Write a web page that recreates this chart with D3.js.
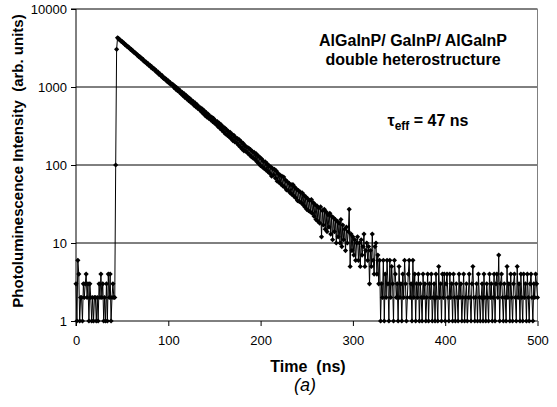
<!DOCTYPE html>
<html>
<head>
<meta charset="utf-8">
<script src="https://cdn.jsdelivr.net/npm/d3@7"></script>
<style>
  body { margin: 0; background: #fff; }
  text { font-family: Arial, "Liberation Sans", sans-serif; }
</style>
</head>
<body>
<div id="chart"></div>
<script>
  // counts per 1 ns channel
  const backgroundCounts = [3, 1, 6, 4, 1, 2, 2, 1, 3, 2, 3, 4, 2, 3, 1, 3, 2, 1, 2, 1,
    2, 2, 1, 2, 1, 3, 2, 4, 2, 3, 1, 2, 1, 3, 1, 4, 2, 4, 1, 2, 3, 2, 2];
  const riseCounts = [100, 3043];
  const decayCounts = [
    4266, 4190, 4035, 3990, 3850, 3820, 3680, 3650, 3500, 3470,
    3340, 3320, 3190, 3170, 3040, 3030, 2900, 2890, 2760, 2750,
    2690, 2580, 2570, 2450, 2460, 2340, 2350, 2230, 2240, 2130,
    2080, 2090, 1980, 1990, 1890, 1910, 1800, 1820, 1720, 1740,
    1700, 1600, 1620, 1530, 1550, 1450, 1470, 1390, 1410, 1320,
    1290, 1310, 1230, 1250, 1170, 1200, 1120, 1140, 1070, 1090,
    1075, 990, 1030, 940, 985, 895, 940, 860, 895, 815,
    855, 775, 820, 735, 785, 705, 750, 670, 715, 640,
    680, 615, 650, 580, 625, 555, 595, 530, 560, 510,
    540, 480, 520, 455, 495, 430, 470, 410, 450, 395,
    425, 380, 410, 360, 395, 345, 370, 330, 360, 310,
    345, 295, 330, 280, 310, 265, 300, 250, 285, 240,
    270, 230, 262, 218, 248, 205, 240, 198, 225, 192,
    218, 180, 210, 170, 198, 160, 190, 152, 178, 150,
    170, 142, 165, 135, 158, 128, 150, 122, 145, 118,
    140, 110, 132, 104, 126, 98, 120, 94, 112, 90,
    110, 86, 104, 82, 98, 78, 95, 72, 90, 75,
    88, 68, 84, 62, 78, 60, 74, 57, 72, 54,
    70, 52, 64, 48, 61, 47, 58, 44, 56, 42,
    56, 40, 52, 38, 49, 35, 47, 34, 45, 33,
    44, 31, 41, 29, 39, 27, 37, 26, 35, 25,
    36, 24, 33, 22, 31, 20, 30, 19, 28, 18,
    29, 12, 26, 17, 27, 15, 25, 14, 23, 16,
    24, 13, 22, 11, 21, 14, 20, 10, 19, 12,
    18, 10, 20, 9, 17, 11, 15, 8, 16, 10,
    14, 27, 5, 13, 8, 12, 7, 11, 6, 10,
    12, 6, 10, 5, 11, 7, 9, 13, 5, 8,
    10, 6, 9, 3, 8, 5, 13, 6, 4, 9,
    10, 4, 7, 3, 6];
  const tailCounts = [
    1, 3, 2, 6, 1, 4, 2, 6, 3, 1,
    6, 2, 5, 3, 1, 6, 4, 2, 3, 1,
    5, 2, 3, 1, 4, 2, 6, 3, 1, 2,
    4, 6, 2, 3, 1, 6, 2, 4, 1, 3,
    2, 4, 1, 3, 2, 1, 4, 2, 3, 1,
    2, 4, 1, 3, 2, 4, 1, 2, 3, 1,
    4, 2, 1, 5, 2, 3, 1, 4, 2, 4,
    1, 3, 4, 2, 1, 4, 2, 3, 1, 4,
    2, 1, 3, 2, 1, 4, 2, 3, 1, 2,
    4, 1, 2, 3, 1, 2, 4, 2, 1, 3,
    5, 2, 1, 2, 3, 1, 4, 2, 1, 2,
    3, 1, 4, 2, 1, 3, 2, 1, 4, 2,
    3, 1, 2, 4, 1, 3, 4, 2, 7, 1,
    3, 4, 2, 1, 3, 2, 1, 5, 2, 3,
    1, 4, 2, 1, 3, 4, 2, 1, 5, 2,
    3, 1, 4, 2, 1, 4, 2, 3, 1, 4,
    2, 1, 3, 4, 2, 1, 3, 2, 4, 3, 2];

  const xTicks = [0, 100, 200, 300, 400, 500];
  const yTicks = [1, 10, 100, 1000, 10000];
  const titleLines = ["AlGaInP/ GaInP/ AlGaInP", "double heterostructure"];

  (function () {
    const counts = backgroundCounts.concat(riseCounts, decayCounts, tailCounts);
    const data = counts.map((c, i) => ({ t: i, c: c })); // 1 ns channels from t = 0

    const width = 557;
    const height = 407;
    const plotLeft = 76, plotRight = 537.5, plotTop = 9, plotBottom = 321;

    const svg = d3.select("#chart")
      .append("svg")
      .attr("width", width)
      .attr("height", height);

    const x = d3.scaleLinear().domain([0, 500]).range([plotLeft, plotRight]);
    const y = d3.scaleLog().domain([1, 10000]).range([plotBottom, plotTop]);

    // gridlines + plot border
    svg.append("g")
      .selectAll("line")
      .data(yTicks.slice(1))
      .enter()
      .append("line")
      .attr("x1", plotLeft)
      .attr("x2", plotRight)
      .attr("y1", d => y(d))
      .attr("y2", d => y(d))
      .attr("stroke", "#000")
      .attr("stroke-width", 1);

    svg.append("line")
      .attr("x1", plotRight).attr("x2", plotRight)
      .attr("y1", plotTop).attr("y2", plotBottom)
      .attr("stroke", "#808080");

    const yAxis = svg.append("g")
      .attr("transform", `translate(${plotLeft},0)`)
      .call(d3.axisLeft(y).tickValues(yTicks).tickFormat(d3.format("d")).tickSize(5).tickPadding(4));

    const xAxis = svg.append("g")
      .attr("transform", `translate(0,${plotBottom})`)
      .call(d3.axisBottom(x).tickValues(xTicks).tickSize(5).tickPadding(10));

    [yAxis, xAxis].forEach(function (ax) {
      ax.selectAll("path, line").attr("stroke", "#000");
      ax.selectAll("text")
        .attr("font-family", "Arial, 'Liberation Sans', sans-serif")
        .attr("font-size", "13px")
        .attr("fill", "#000");
    });
    yAxis.select(".domain").attr("d", `M-5,${plotTop}H0V${plotBottom}`);
    xAxis.select(".domain").attr("d", `M${plotLeft},5V0H${plotRight}`);

    // the trace
    const line = d3.line()
      .x(d => x(d.t))
      .y(d => y(d.c));

    svg.append("path")
      .datum(data)
      .attr("fill", "none")
      .attr("stroke", "#000")
      .attr("stroke-width", 1)
      .attr("d", line);

    const r = 2.6;
    svg.append("g")
      .selectAll("path")
      .data(data)
      .enter()
      .append("path")
      .attr("d", `M0,${-r}L${r},0L0,${r}L${-r},0Z`)
      .attr("fill", "#000")
      .attr("transform", d => `translate(${x(d.t)},${y(d.c)})`);

    // labels
    svg.append("text")
      .attr("x", 308)
      .attr("y", 372)
      .attr("text-anchor", "middle")
      .attr("font-size", "16px")
      .attr("font-weight", "bold")
      .attr("xml:space", "preserve")
      .text("Time  (ns)");

    svg.append("text")
      .attr("x", 305)
      .attr("y", 391)
      .attr("text-anchor", "middle")
      .attr("font-size", "18px")
      .attr("font-style", "italic")
      .text("(a)");

    svg.append("text")
      .attr("transform", "translate(23,161) rotate(-90)")
      .attr("text-anchor", "middle")
      .attr("font-size", "15px")
      .attr("font-weight", "bold")
      .attr("xml:space", "preserve")
      .text("Photoluminescence Intensity  (arb. units)");

    svg.append("g")
      .selectAll("text")
      .data(titleLines)
      .enter()
      .append("text")
      .attr("x", 413)
      .attr("y", (d, i) => 46 + i * 19)
      .attr("text-anchor", "middle")
      .attr("font-size", "16px")
      .attr("font-weight", "bold")
      .text(d => d);

    const tau = svg.append("text")
      .attr("x", 428)
      .attr("y", 126)
      .attr("text-anchor", "middle")
      .attr("font-size", "16px")
      .attr("font-weight", "bold");
    tau.append("tspan").text("τ");
    tau.append("tspan").attr("font-size", "12px").attr("dy", 4).text("eff");
    tau.append("tspan").attr("dy", -4).text(" = 47 ns");
  })();
</script>
</body>
</html>
